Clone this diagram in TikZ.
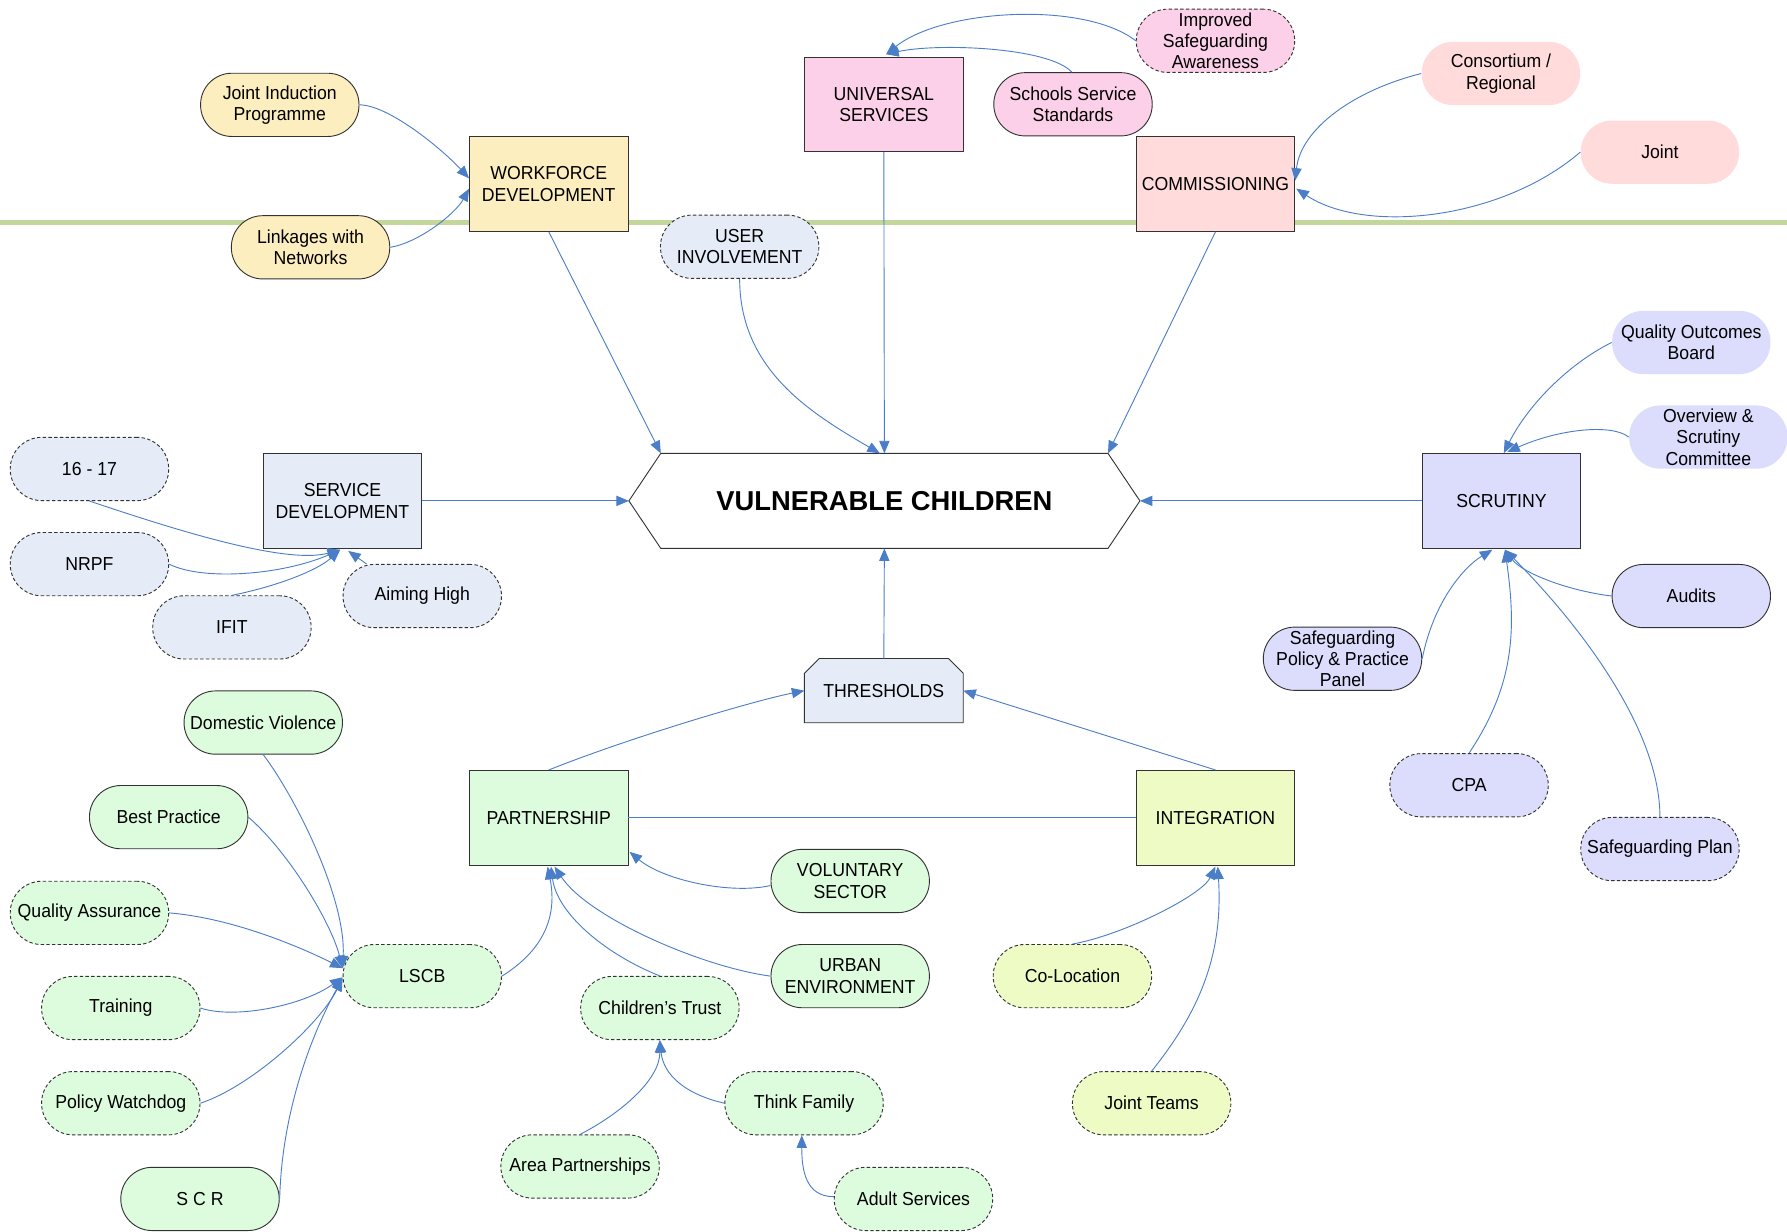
\documentclass[tikz,border=0pt]{standalone}
\usepackage{fontspec}
\setmainfont[FakeStretch=0.94]{Liberation Sans}
\newfontfamily\titlefont{Liberation Sans}
\usetikzlibrary{arrows.meta,calc,backgrounds}

\definecolor{cyel}{RGB}{252,238,190}
\definecolor{cpink}{RGB}{252,208,232}
\definecolor{csal}{RGB}{255,219,219}
\definecolor{cblue}{RGB}{229,236,247}
\definecolor{clav}{RGB}{220,220,252}
\definecolor{cgrn}{RGB}{221,252,221}
\definecolor{cyg}{RGB}{238,251,197}
\definecolor{cline}{RGB}{74,126,200}
\definecolor{cbar}{RGB}{195,214,155}
\definecolor{cbord}{RGB}{50,50,50}

\begin{document}
\begin{tikzpicture}[x=1pt,y=-1pt,
  every node/.style={font=\fontsize{16.5}{18.7}\selectfont, align=center, inner sep=0pt, text=black},
  boxn/.style={rectangle, draw=cbord, line width=0.8pt, minimum width=139pt, minimum height=83pt},
  pill/.style={rectangle, rounded corners=27.5pt, draw=cbord, line width=0.8pt, minimum width=139pt, minimum height=55.5pt},
  dsh/.style={dash pattern=on 3pt off 2pt},
  nob/.style={draw=none},
  arr/.style={draw=cline, line width=0.8pt, -{Triangle[length=11pt,width=9pt]}},
  ln/.style={draw=cline, line width=0.8pt},
]
\useasboundingbox (0,0) rectangle (1568,1081);

% ---- top ----
\node[pill, fill=cyel] (jip) at (245.5,92) {Joint Induction\\Programme};
\node[boxn, fill=cyel] (wd) at (481.5,161.5) {WORKFORCE\\DEVELOPMENT};
\node[pill, fill=cyel] (lwn) at (272.5,217) {Linkages with\\Networks};
\node[boxn, fill=cpink] (us) at (775.5,91.5) {UNIVERSAL\\SERVICES};
\node[pill, fill=cpink] (sss) at (941.5,91.5) {Schools Service\\Standards};
\node[pill, dsh, fill=cpink] (isa) at (1066.5,35.8) {Improved\\Safeguarding\\Awareness};
\node[boxn, fill=csal] (com) at (1066.5,161.5) {COMMISSIONING};
\node[pill, nob, fill=csal] (cr) at (1317,64.5) {Consortium /\\Regional};
\node[pill, nob, fill=csal] (jnt) at (1456.5,133.5) {Joint};
\node[pill, dsh, fill=cblue] (ui) at (649,216.5) {USER\\INVOLVEMENT};

% ---- centre ----
\node[rectangle, minimum width=448pt, minimum height=83pt] (vc) at (776,439.5)
  {\titlefont\bfseries\fontsize{24}{28}\selectfont VULNERABLE CHILDREN};
\node[rectangle, minimum width=139pt, minimum height=56pt] (th) at (775.5,606) {THRESHOLDS};

% ---- left ----
\node[boxn, fill=cblue] (sd) at (300.5,439.5) {SERVICE\\DEVELOPMENT};
\node[pill, dsh, fill=cblue] (s1617) at (78.5,411.5) {16 - 17};
\node[pill, dsh, fill=cblue] (nrpf) at (78.5,495) {NRPF};
\node[pill, dsh, fill=cblue] (ifit) at (203.5,550.5) {IFIT};
\node[pill, dsh, fill=cblue] (ah) at (370.5,523) {Aiming High};

% ---- right ----
\node[boxn, fill=clav] (sc) at (1317.5,439.5) {SCRUTINY};
\node[pill, nob, fill=clav] (qob) at (1484,300.5) {Quality Outcomes\\Board};
\node[pill, nob, fill=clav] (os) at (1499,383.5) {Overview \&\\Scrutiny\\Committee};
\node[pill, fill=clav] (aud) at (1484,523) {Audits};
\node[pill, fill=clav] (sppp) at (1178,578) {Safeguarding\\Policy \& Practice\\Panel};
\node[pill, dsh, fill=clav] (cpa) at (1289,689) {CPA};
\node[pill, dsh, fill=clav] (sp) at (1456.5,745) {Safeguarding Plan};

% ---- bottom ----
\node[boxn, fill=cgrn] (part) at (481.5,717.5) {PARTNERSHIP};
\node[boxn, fill=cyg] (int) at (1066.5,717.5) {INTEGRATION};
\node[pill, fill=cgrn] (vs) at (746,773) {VOLUNTARY\\SECTOR};
\node[pill, fill=cgrn] (ue) at (746,856.5) {URBAN\\ENVIRONMENT};
\node[pill, dsh, fill=cgrn] (lscb) at (370.5,856.5) {LSCB};
\node[pill, dsh, fill=cgrn] (ct) at (579,884.5) {Children’s Trust};
\node[pill, dsh, fill=cgrn] (tf) at (705.5,968) {Think Family};
\node[pill, dsh, fill=cgrn] (ap) at (509,1023.5) {Area Partnerships};
\node[pill, dsh, fill=cgrn] (adult) at (801.5,1052) {Adult Services};
\node[pill, dsh, fill=cyg] (col) at (941,856.5) {Co-Location};
\node[pill, dsh, fill=cyg] (jt) at (1010.5,968) {Joint Teams};
\node[pill, fill=cgrn] (dv) at (231,634) {Domestic Violence};
\node[pill, fill=cgrn] (bp) at (148,717) {Best Practice};
\node[pill, dsh, fill=cgrn] (qa) at (78.5,801) {Quality Assurance};
\node[pill, dsh, fill=cgrn] (tr) at (106,884.5) {Training};
\node[pill, dsh, fill=cgrn] (pw) at (106,968) {Policy Watchdog};
\node[pill, fill=cgrn] (scr) at (175.5,1052) {S C R};

% ---- background shapes ----
\begin{scope}[on background layer]
  \fill[white] (0,0) rectangle (1568,1081);
  \draw[cbar, line width=4.5pt] (0,195) -- (1568,195);
  \draw[cbord, line width=0.8pt, fill=white]
    (vc.west) -- ($(vc.north west)+(28,0)$) -- ($(vc.north east)+(-28,0)$) -- (vc.east)
    -- ($(vc.south east)+(-28,0)$) -- ($(vc.south west)+(28,0)$) -- cycle;
  \draw[cbord, line width=0.8pt, fill=cblue]
    (th.south west) -- ($(th.north west)+(0,13)$) -- ($(th.north west)+(13,0)$)
    -- ($(th.north east)+(-13,0)$) -- ($(th.north east)+(0,13)$) -- (th.south east) -- cycle;
\end{scope}

% ---- connectors: top ----
\draw[arr] (jip.east) .. controls +(25,0) and +(-25,-27) .. ($(wd.west)+(0,-5)$);
\draw[arr] (lwn.east) .. controls +(25,-4) and +(-12,22) .. ($(wd.west)+(0,4)$);
\draw[arr] (wd.south) -- ($(vc.north west)+(28,0)$);
\draw[arr] (us.south) -- (vc.north);
\draw[arr] (ui.south) .. controls +(0,80) and +(-60,-35) .. ($(vc.north)+(-4,0)$);
\draw[arr] (com.south) -- ($(vc.north east)+(-28,0)$);
\draw[arr] ($(sss.north)+(-1,0)$) .. controls +(-20,-22) and +(45,-10) .. ($(us.north)+(2,-2)$);
\draw[arr] (isa.west) .. controls +(-45,-35) and +(50,-40) .. ($(us.north)+(2,-2)$);
\draw[arr] (cr.west) .. controls +(-60,15) and +(5,-45) .. ($(com.east)+(0,-3)$);
\draw[arr] (jnt.west) .. controls +(-70,60) and +(60,40) .. ($(com.east)+(1,4)$);

% ---- connectors: left ----
\draw[arr] (sd.east) -- (vc.west);
\draw[arr] (s1617.south) .. controls +(60,20) and +(-50,14) .. ($(sd.south)+(-2,1)$);
\draw[arr] (nrpf.east) .. controls +(30,15) and +(-50,22) .. ($(sd.south)+(-2,1)$);
\draw[arr] (ifit.north) .. controls +(40,-8) and +(-20,18) .. ($(sd.south)+(-2,1)$);
\draw[arr] ($(ah.north west)+(21,0)$) -- ($(sd.south)+(5,2)$);

% ---- connectors: right ----
\draw[arr] (sc.west) -- (vc.east);
\draw[arr] (qob.west) .. controls +(-40,20) and +(20,-40) .. ($(sc.north)+(2,0)$);
\draw[arr] (os.west) .. controls +(-15,-12) and +(45,-20) .. ($(sc.north)+(5,-1)$);
\draw[arr] (aud.west) .. controls +(-40,-5) and +(15,20) .. ($(sc.south)+(3,1)$);
\draw[arr] (sppp.east) .. controls +(10,-50) and +(-25,15) .. ($(sc.south)+(-8,1)$);
\draw[arr] (cpa.north) .. controls +(40,-60) and +(10,70) .. ($(sc.south)+(3,1)$);
\draw[arr] (sp.north) .. controls +(0,-80) and +(60,60) .. ($(sc.south)+(3,1)$);

% ---- connectors: bottom ----
\draw[arr] (th.north) -- (vc.south);
\draw[arr] (part.north) .. controls +(70,-28) and +(-45,9) .. (th.west);
\draw[arr] (int.north) -- (th.east);
\draw[ln] (part.east) -- (int.west);
\draw[arr] ($(vs.west)+(0,4)$) .. controls +(-35,8) and +(30,25) .. ($(part.south east)+(1,-12)$);
\draw[arr] (ue.west) .. controls +(-60,-8) and +(30,45) .. ($(part.south)+(5,1)$);
\draw[arr] (ct.north) .. controls +(-50,-20) and +(5,40) .. ($(part.south)+(2,1)$);
\draw[arr] (lscb.east) .. controls +(40,-25) and +(8,40) .. ($(part.south)+(-1,1)$);

\draw[arr] (dv.south) .. controls +(30,40) and +(3,-60) .. ($(lscb.west)+(0,-7)$);
\draw[arr] (bp.east) .. controls +(35,30) and +(-10,-40) .. ($(lscb.west)+(0,-7)$);
\draw[arr] (qa.east) .. controls +(60,5) and +(-30,-15) .. ($(lscb.west)+(0,-7)$);
\draw[arr] (tr.east) .. controls +(30,10) and +(-35,25) .. ($(lscb.west)+(0,1)$);
\draw[arr] (pw.east) .. controls +(45,-15) and +(-20,40) .. ($(lscb.west)+(0,2)$);
\draw[arr] (scr.east) .. controls +(2,-80) and +(-25,45) .. ($(lscb.west)+(0,2)$);

\draw[arr] (ap.north) .. controls +(35,-18) and +(0,35) .. (ct.south);
\draw[arr] (tf.west) .. controls +(-35,-8) and +(3,30) .. (ct.south);
\draw[arr] ($(adult.west)+(0,-2)$) .. controls +(-25,0) and +(0,30) .. ($(tf.south)+(-2,0)$);

\draw[arr] (col.north) .. controls +(45,-8) and +(-12,25) .. ($(int.south)+(0,1)$);
\draw[arr] (jt.north) .. controls +(40,-50) and +(5,80) .. ($(int.south)+(2,1)$);
\end{tikzpicture}
\end{document}
